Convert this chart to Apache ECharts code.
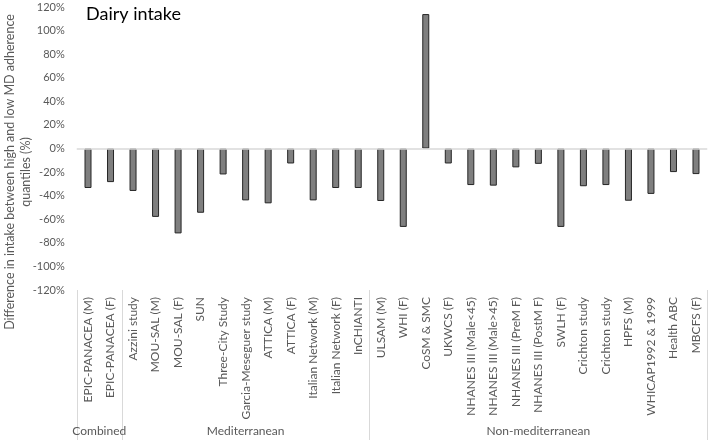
<!DOCTYPE html>
<html><head><meta charset="utf-8">
<script src="https://cdn.jsdelivr.net/npm/echarts@6/dist/echarts.min.js"></script>
<style>html,body{margin:0;padding:0;background:#fff}#c{width:709px;height:440px}</style>
</head><body><div id="c"></div>
<script>
const categories = ["EPIC-PANACEA (M)","EPIC-PANACEA (F)","Azzini study","MOU-SAL (M)","MOU-SAL (F)","SUN","Three-City Study","Garcia-Meseguer study","ATTICA (M)","ATTICA (F)","Italian Network (M)","Italian Network (F)","InCHIANTI","ULSAM (M)","WHI (F)","CoSM & SMC","UKWCS (F)","NHANES III (Male<45)","NHANES III (Male>45)","NHANES III (PreM F)","NHANES III (PostM F)","SWLH (F)","Crichton study","Crichton study","HPFS (M)","WHICAP1992 & 1999","Health ABC","MBCFS (F)"];
const values = [-33.5,-28.5,-36,-58,-72,-54.5,-22,-44,-46.5,-12.7,-44,-33.5,-33.5,-44.5,-66.5,114,-12.7,-31,-31.5,-16,-13,-66.5,-32,-31,-44.3,-38.5,-20,-21.7];
const groups = ["Combined","Mediterranean","Non-mediterranean"];
const groupCenters = [1, 7.5, 20.5];
const groupBounds = [0, 2, 13, 28];
const yTicks = [-120,-100,-80,-60,-40,-20,0,20,40,60,80,100,120];

const chart = echarts.init(document.getElementById('c'));
const FONT = 'Lato';
chart.setOption({
  animation: false,
  textStyle: {fontFamily: FONT},
  title: {text: 'Dairy intake', left: 81, top: 0, textStyle: {fontFamily: FONT, fontSize: 18, fontWeight: 'normal', color: '#000'}},
  grid: {left: 76.75, right: 1.75, top: 7, bottom: 150, containLabel: false},
  xAxis: [
    {type: 'category', data: categories, position: 'bottom',
     axisLine: {show: false, onZero: false}, axisTick: {show: false},
     axisLabel: {rotate: 90, interval: 0, margin: 7, fontSize: 12, color: '#595959', fontFamily: FONT}},
    {type: 'value', min: 0, max: categories.length, position: 'bottom', offset: 0,
     axisLine: {show: false, onZero: false}, splitLine: {show: false},
     axisTick: {show: true, inside: false, length: 150, customValues: groupBounds, lineStyle: {color: '#d9d9d9', width: 1}},
     axisLabel: {margin: 135, fontSize: 12, color: '#595959', fontFamily: FONT,
       customValues: groupCenters,
       formatter: v => { const i = groupCenters.indexOf(v); return i >= 0 ? groups[i] : ''; }}}
  ],
  yAxis: {type: 'value', min: yTicks[0], max: yTicks[yTicks.length-1], interval: 20,
    axisLine: {show: false}, axisTick: {show: false}, splitLine: {show: false},
    axisLabel: {formatter: '{value}%', fontSize: 11, color: '#595959', margin: 12, fontFamily: FONT}},
  graphic: [{type: 'text', x: 2, y: 172, rotation: Math.PI/2,
    style: {text: 'Difference in intake between high and low MD adherence\nquantiles (%)', align: 'center', verticalAlign: 'top',
      fontSize: 12.5, lineHeight: 16, fill: '#595959', fontFamily: FONT}}],
  series: [{type: 'bar', data: values, xAxisIndex: 0, barWidth: 7,
    itemStyle: {color: '#7f7f7f', borderColor: '#262626', borderWidth: 1},
    markLine: {silent: true, symbol: 'none', label: {show: false},
      lineStyle: {color: '#d9d9d9', type: 'solid', width: 1.5}, data: [{yAxis: 0}]}}]
});
</script></body></html>
